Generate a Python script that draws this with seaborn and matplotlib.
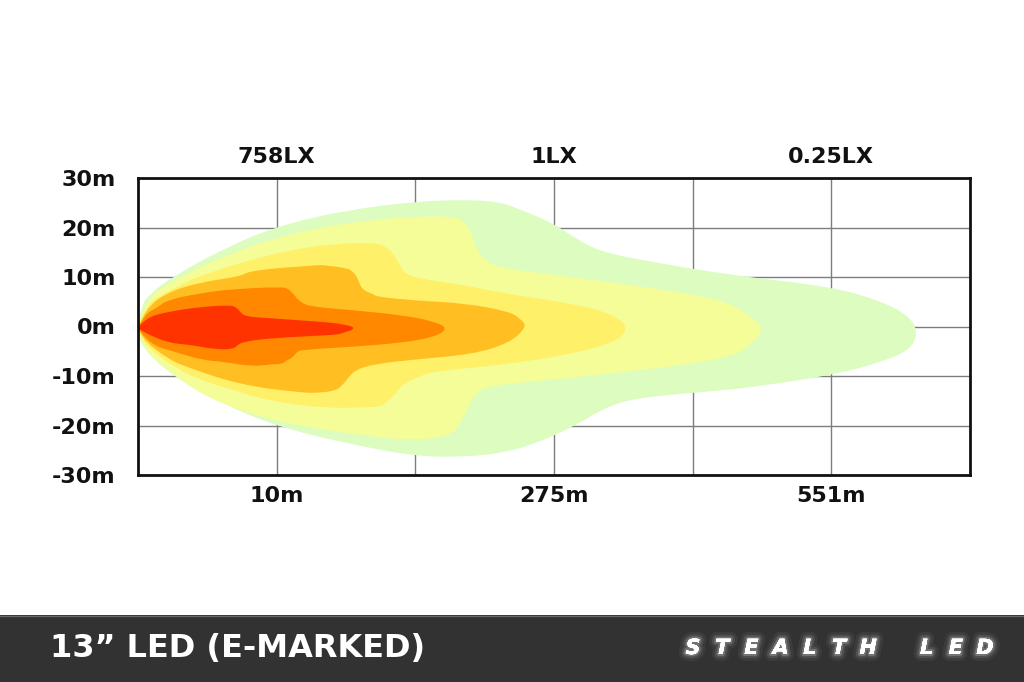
import matplotlib
matplotlib.use("Agg")
import matplotlib.pyplot as plt
import matplotlib.patheffects as pe
from matplotlib.path import Path
from matplotlib.patches import PathPatch
import pandas as pd
import seaborn as sns

# beam pattern zones, outer to inner; x in grid units (100 per column), y in metres
# each outline runs along the top edge to the tip, then back along the bottom edge
green_x = [0, 2, 8, 25.2, 60, 100.2, 150, 201.2, 237.2, 260, 273.3, 299.3, 313.7, 333.1, 369.2, 426.9,
           501.2, 537.2, 556.7, 562.5,
           556.7, 537.2, 501.2, 453.6, 426.9, 356.9, 333.1, 316.6, 284.8, 261, 237.2, 201.2, 150, 100.2,
           60, 25.2, 2, 0]
green_y = [-0.3, 4.0, 6.5, 10.1, 15.5, 20.3, 23.5, 25.3, 25.6, 25.2, 23.9, 20.9, 18.1, 15.1, 13.1, 10.4,
           8.0, 5.0, 2.0, -1.3,
           -4.7, -7.1, -9.8, -11.8, -12.8, -14.4, -16.9, -19.9, -23.9, -25.6, -26.3, -26.3, -23.6, -20.2,
           -15.5, -10.1, -4.0, -0.3]

pale_x = [0, 5, 25.2, 60, 100.2, 150, 201.2, 229, 236, 240, 243, 248, 261, 309.3, 381.5, 426.9, 446.4, 450.7,
          443.5, 427.9, 356.9, 284.8, 248.8, 241.6, 236, 232, 226, 201.9, 169.5, 97.3, 50, 25.2, 5, 0]
pale_y = [-0.3, 5.5, 9.3, 14.0, 18.1, 21.0, 22.3, 22.2, 21.0, 19.2, 16.5, 13.8, 11.8, 10.1, 7.4, 5.0, 1.0, -0.7,
          -3.3, -6.4, -9.1, -11.1, -12.2, -14.3, -17.5, -19.8, -22.0, -23.0, -22.4, -19.2, -14.5, -9.6, -5.0, -0.3]

yellow_x = [0, 5, 25.2, 46.2, 100.2, 142.1, 169.5, 178, 184, 189, 193, 203.7, 238.7, 261, 320.9, 345.4, 353.3,
            345.4, 309.3, 261, 212.7, 205.5, 191, 185, 179.6, 176, 169.5, 133.4, 93.7, 73.6, 46.2, 25.2, 5, 0]
yellow_y = [-0.3, 4.5, 7.6, 10.5, 15.0, 16.8, 16.9, 16.3, 14.8, 12.2, 10.6, 9.6, 8.2, 6.8, 4.3, 2.0, -0.3,
            -3.1, -5.8, -7.8, -9.1, -9.8, -11.6, -13.8, -15.2, -16.0, -16.3, -16.5, -15.0, -13.2, -11.0, -8.1, -3.8, -0.3]

amber_x = [0, 5, 21.6, 46.2, 73.6, 82.2, 129.8, 133.4, 151.4, 155, 157.9, 161.5, 169.5, 172, 201.9, 235.8,
           268.2, 276, 280.5,
           268.2, 241.6, 201.9, 169.5, 157, 152.9, 147, 142.1, 130, 118.3, 73.6, 33.9, 21.6, 5, 0]
amber_y = [-0.3, 3.5, 7.0, 9.0, 10.1, 11.4, 12.4, 12.4, 11.8, 11.0, 10.1, 7.4, 6.6, 6.0, 5.2, 4.7,
           3.0, 1.5, 0.0,
           -3.3, -5.6, -6.6, -7.6, -8.8, -9.9, -12.0, -13.0, -13.4, -13.4, -11.8, -8.1, -6.5, -3.0, -0.3]

orange_x = [0, 5, 13.7, 21.6, 46.2, 69.9, 103.8, 108.5, 112, 116, 122.6, 145.7, 154.3, 190.4, 214.2, 223.5,
            214.2, 190.4, 154.3, 118.3, 114.7, 111, 107.4, 103.8, 97.3, 82.2, 61.3, 46.2, 21.6, 13.7, 5, 0]
orange_y = [-0.3, 2.5, 3.8, 5.4, 6.8, 7.6, 8.0, 7.6, 6.6, 5.2, 4.1, 3.5, 3.3, 2.3, 1.0, -0.4,
            -2.1, -3.3, -4.1, -4.7, -5.1, -6.4, -6.8, -7.6, -7.6, -8.1, -7.1, -6.8, -4.7, -4.1, -2.3, -0.3]

red_x = [0, 5, 21.6, 46.2, 66, 71, 74, 78, 93.7, 129.8, 145.7, 158.6,
         145.7, 142.1, 97.3, 75, 71, 68.5, 57.7, 37.5, 21.6, 5, 0]
red_y = [-0.3, 1.7, 3.0, 4.0, 4.3, 3.9, 2.8, 2.0, 1.7, 1.0, 0.6, -0.3,
         -1.5, -1.7, -2.3, -3.1, -4.0, -4.5, -4.7, -3.7, -3.3, -1.3, -0.3]

zone_names = ["0.25lx", "0.5lx", "1lx", "3lx", "10lx", "758lx"]
zone_colors = ["#dcfcc0", "#f4fd98", "#fff06a", "#ffbf22", "#ff8800", "#ff3300"]

x_ticks = [100, 300, 500]
x_labels = ["10m", "275m", "551m"]
lux_labels = ["758LX", "1LX", "0.25LX"]
y_ticks = [30, 20, 10, 0, -10, -20, -30]
y_labels = ["30m", "20m", "10m", "0m", "-10m", "-20m", "-30m"]

outlines = [(green_x, green_y), (pale_x, pale_y), (yellow_x, yellow_y),
            (amber_x, amber_y), (orange_x, orange_y), (red_x, red_y)]
df = pd.concat([pd.DataFrame({"zone": name, "x": xs, "y": ys})
                for name, (xs, ys) in zip(zone_names, outlines)])


def smooth_path(xs, ys):
    # quadratic bezier through the midpoints, so the read vertices act as control points
    pts = list(zip(xs, ys))
    verts = [pts[0]]
    codes = [Path.MOVETO]
    for i in range(1, len(pts) - 1):
        mid = ((pts[i][0] + pts[i + 1][0]) / 2, (pts[i][1] + pts[i + 1][1]) / 2)
        verts += [pts[i], mid]
        codes += [Path.CURVE3, Path.CURVE3]
    verts.append(pts[-1])
    codes.append(Path.LINETO)
    return Path(verts, codes)


sns.set_style("white")
plt.rcParams["font.family"] = ["DejaVu Sans"]

fig = plt.figure(figsize=(10.24, 6.82), dpi=100)
ax = fig.add_axes([138 / 1024, 1 - 475 / 682, 832 / 1024, 297 / 682])

for name, color in zip(zone_names, zone_colors):
    part = df[df["zone"] == name]
    ax.add_patch(PathPatch(smooth_path(part["x"].tolist(), part["y"].tolist()),
                           facecolor=color, lw=0, zorder=2))

ax.set_xlim(0, 600)
ax.set_ylim(-30, 30)
ax.set_xticks([100, 200, 300, 400, 500])
ax.set_yticks(y_ticks)
ax.grid(True, color="#7d7d7d", lw=1.0)
ax.set_axisbelow(True)
ax.set_xticklabels(["", "", "", "", ""])
ax.set_yticklabels(y_labels, fontsize=16, fontweight="bold", color="#111111")
ax.tick_params(axis="y", length=0, pad=16)
ax.tick_params(axis="x", length=0)
for s in ax.spines.values():
    s.set_visible(True)
    s.set_color("#111111")
    s.set_linewidth(2)
    s.set_zorder(5)

bot = ax.secondary_xaxis("bottom")
bot.set_xticks(x_ticks, labels=x_labels, fontsize=16, fontweight="bold", color="#111111")
bot.tick_params(length=0, pad=8)
for s in bot.spines.values():
    s.set_visible(False)

top = ax.secondary_xaxis("top")
top.set_xticks(x_ticks, labels=lux_labels, fontsize=16, fontweight="bold", color="#111111")
top.tick_params(length=0, pad=8)
for s in top.spines.values():
    s.set_visible(False)

# dark banner along the bottom
band = fig.add_axes([0, 0, 1, 67 / 682])
band.set_facecolor("#323232")
band.set_xlim(0, 1024)
band.set_ylim(0, 67)
band.set_xticks([])
band.set_yticks([])
for s in band.spines.values():
    s.set_visible(False)
band.axhline(66.5, color="#6a6a6a", lw=1)
band.text(50, 34, "13\u201d LED (E-MARKED)", color="white", fontsize=23, fontweight="bold",
          va="center", ha="left")

glow = [pe.withStroke(linewidth=10, foreground=(1, 1, 1, 0.05)),
        pe.withStroke(linewidth=6, foreground=(1, 1, 1, 0.1)),
        pe.withStroke(linewidth=3, foreground=(1, 1, 1, 0.2)),
        pe.Normal()]
for i, ch in enumerate("STEALTH LED"):
    band.text(693 + i * 29.2, 34, ch, color="white", fontsize=15, fontweight="bold", style="italic",
              va="center", ha="center", path_effects=glow)

fig.savefig("out.png", dpi=100, facecolor="white")
